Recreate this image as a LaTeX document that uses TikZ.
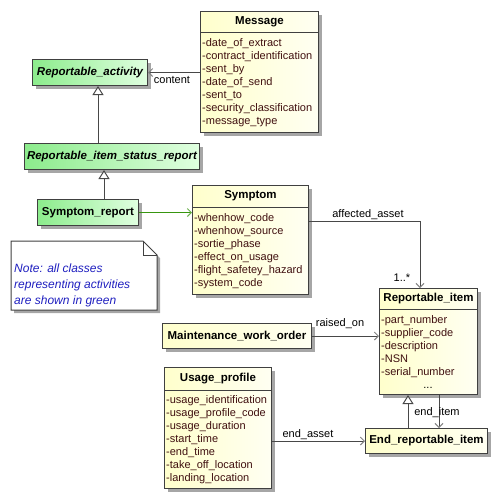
\documentclass[tikz,border=0pt]{standalone}
\usepackage{fontspec}
\setmainfont{Liberation Sans}
\usetikzlibrary{arrows.meta,calc,shadows}
\definecolor{bordc}{RGB}{64,64,64}
\definecolor{ylL}{RGB}{255,255,204}
\definecolor{ylR}{RGB}{255,255,242}
\definecolor{grL}{RGB}{140,236,140}
\definecolor{grR}{RGB}{224,255,224}
\definecolor{attrc}{RGB}{64,16,16}
\definecolor{notec}{RGB}{32,32,192}
\definecolor{grarrow}{RGB}{56,150,16}
\definecolor{linec}{RGB}{72,72,72}
\definecolor{tipc}{RGB}{130,130,130}
\tikzset{
  shad/.style={drop shadow={shadow xshift=3pt,shadow yshift=-3pt,fill=black!35,opacity=1}},
  classbox/.style={draw=bordc,line width=1pt,inner sep=0pt,anchor=north west,shad},
  ybox/.style={classbox,left color=ylL,right color=ylR},
  gbox/.style={classbox,left color=grL,right color=grR},
  hdr/.style={font=\fontsize{11.5}{13}\selectfont\bfseries,inner sep=0pt,anchor=base},
  boxtext/.style={font=\fontsize{11.5}{13}\selectfont\bfseries},
  attr/.style={font=\fontsize{11}{13}\selectfont,text=attrc,inner sep=0pt,anchor=base west},
  lbl/.style={font=\fontsize{11}{13}\selectfont,inner sep=0pt,anchor=base},
  notetext/.style={font=\fontsize{12}{16}\selectfont\itshape,text=notec,inner sep=0pt,anchor=base west},
  divline/.style={draw=bordc,line width=1pt},
  assoc/.style={draw=linec,line width=1pt,-{Straight Barb[length=4pt,width=8pt,color=tipc]}},
  gassoc/.style={draw=grarrow,line width=1pt,-{Straight Barb[length=4pt,width=8pt,color=grarrow!75]}},
  inherit/.style={draw=linec,line width=1pt,-{Triangle[open,length=9pt,width=11pt,fill=white,color=linec]}},
}
\newcommand\attrlist[4]{%
  \foreach \t [count=\i] in {#4} {\node[attr] (#1-\i) at (#2,{#3+13*(\i-1)}) {\t};}}
\begin{document}
\begin{tikzpicture}[x=1pt,y=-1pt]
\useasboundingbox (0,0) rectangle (496,499);
% Message
\node[ybox,minimum width=118,minimum height=121] (msg) at (200,11) {};
\node[hdr] (msgh) at ($(msg.north)+(0,13.5)$) {Message};
\draw[divline] ($(msg.north west)+(0,21)$) -- ($(msg.north east)+(0,21)$);
\attrlist{msga}{202}{46}{-date\_of\_extract,-contract\_identification,-sent\_by,-date\_of\_send,-sent\_to,-security\_classification,-message\_type}
% Reportable_activity
\node[gbox,boxtext,minimum width=115,minimum height=26] (ra) at (32,59) {\itshape Reportable\_activity};
% Reportable_item_status_report
\node[gbox,boxtext,minimum width=175,minimum height=26] (risr) at (24,143) {\itshape Reportable\_item\_status\_report};
% Symptom_report
\node[gbox,boxtext,minimum width=101,minimum height=26] (sr) at (37,199) {Symptom\_report};
% Symptom
\node[ybox,minimum width=116,minimum height=109] (sym) at (192,185) {};
\node[hdr] (symh) at ($(sym.north)+(0,13.5)$) {Symptom};
\draw[divline] ($(sym.north west)+(0,22)$) -- ($(sym.north east)+(0,22)$);
\attrlist{syma}{194}{221}{-whenhow\_code,-whenhow\_source,-sortie\_phase,-effect\_on\_usage,-flight\_safetey\_hazard,-system\_code}
% Note
\path[draw=bordc,fill=white,line width=1pt,shad] (11,241) -- (143,241) -- (157,255) -- (157,310) -- (11,310) -- cycle;
\draw[bordc,line width=1pt] (143,241) -- (143,255) -- (157,255);
\node[notetext] (note1) at (14,272) {Note: all classes};
\node[notetext] (note2) at (14,288) {representing activities};
\node[notetext] (note3) at (14,304) {are shown in green};
% Reportable_item
\node[ybox,minimum width=98,minimum height=106] (ri) at (379,288) {};
\node[hdr] (rih) at ($(ri.north)+(0,13.5)$) {Reportable\_item};
\draw[divline] ($(ri.north west)+(0,21)$) -- ($(ri.north east)+(0,21)$);
\attrlist{ria}{381}{323}{-part\_number,-supplier\_code,-description,-NSN,-serial\_number}
\node[lbl] (ridots) at (428,388) {...};
% Maintenance_work_order
\node[ybox,boxtext,minimum width=149,minimum height=25] (mwo) at (162,323) {Maintenance\_work\_order};
% Usage_profile
\node[ybox,minimum width=107,minimum height=121] (up) at (164,367) {};
\node[hdr] (uph) at ($(up.north)+(0,14)$) {Usage\_profile};
\draw[divline] ($(up.north west)+(0,23)$) -- ($(up.north east)+(0,23)$);
\attrlist{upa}{166}{403.5}{-usage\_identification,-usage\_profile\_code,-usage\_duration,-start\_time,-end\_time,-take\_off\_location,-landing\_location}
% End_reportable_item
\node[ybox,boxtext,minimum width=122,minimum height=25] (ere) at (365,428) {End\_reportable\_item};
% connectors
\draw[assoc] (msg.west |- ra.east) -- (ra.east);
\node[lbl] (lcontent) at (172,83) {content};
\draw[inherit] ($(risr.north west)+(74,0)$) -- ($(ra.south west)+(66,0)$);
\draw[inherit] ($(sr.north west)+(67,0)$) -- ($(risr.south west)+(80,0)$);
\draw[gassoc] (sr.east) -- (sr.east -| sym.west);
\draw[assoc] ($(sym.north east)+(0,36)$) -| ($(ri.north west)+(41,0)$);
\node[lbl] (laffected) at (368,217) {affected\_asset};
\node[lbl] (lmult) at (402,281) {1..*};
\draw[assoc] (mwo.east) -- (mwo.east -| ri.west);
\node[lbl] (lraised) at (340,326) {raised\_on};
\draw[assoc] (up.east |- ere.west) -- (ere.west);
\node[lbl] (lendasset) at (308,437) {end\_asset};
\draw[inherit] ($(ere.north west)+(43,0)$) -- ($(ri.south west)+(29,0)$);
\draw[assoc] ($(ri.south west)+(60,0)$) -- ($(ere.north west)+(74,0)$);
\node[lbl] (lenditem) at (437,415) {end\_item};
\end{tikzpicture}
\end{document}
